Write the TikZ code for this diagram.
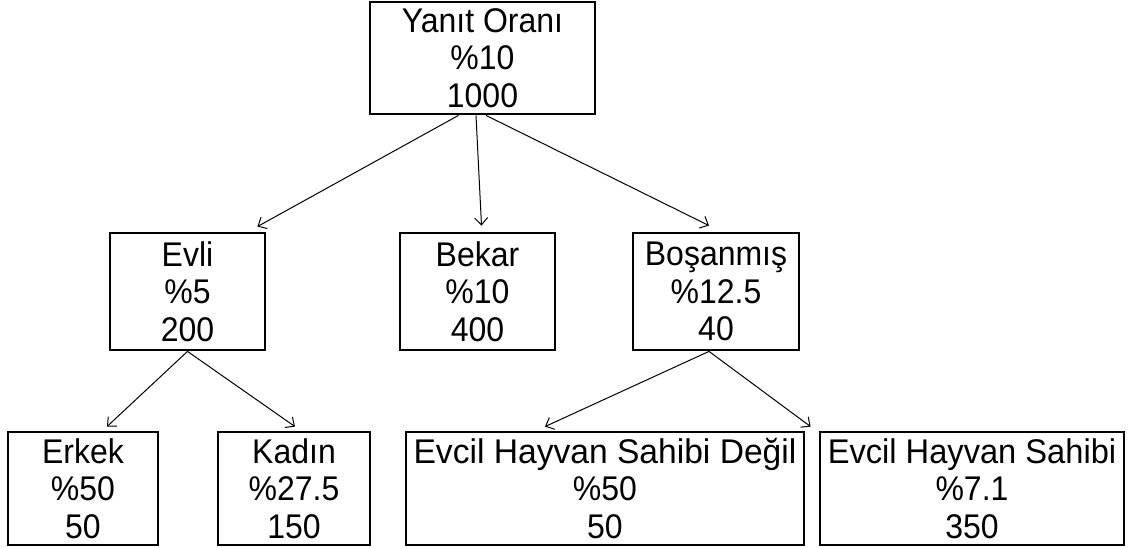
\documentclass[tikz,border=0pt]{standalone}
\usepackage{fontspec}
\usepackage{graphicx}
\setmainfont{Liberation Sans}
\usetikzlibrary{arrows.meta,calc}
\newcommand{\tline}[2][1]{\scalebox{#1}[1.07]{#2}}
\setlength{\lineskiplimit}{-100pt}
\begin{document}
\begin{tikzpicture}[x=1pt,y=1pt,
  box/.style={draw=black,line width=2.8pt,rectangle,align=center,inner sep=0pt,
    font=\fontsize{32}{37.5}\selectfont,anchor=center},
  conn/.style={line width=1pt,-{Straight Barb[length=7pt,width=13pt,line width=1pt]}}]
\useasboundingbox (0,0) rectangle (1130,548);
\node[box,minimum width=225,minimum height=112] (top) at (482.5,490) {\tline{Yanıt Oranı}\\\tline{\%10}\\\tline{1000}};
\node[box,minimum width=155,minimum height=117] (evli) at (187.5,256.5) {\tline{Evli}\\\tline{\%5}\\\tline{200}};
\node[box,minimum width=155,minimum height=117] (bekar) at (477.5,256.5) {\tline{Bekar}\\\tline{\%10}\\\tline{400}};
\node[box,minimum width=166,minimum height=117] (bosan) at (716,256.5) {\tline{Boşanmış}\\\tline{\%12.5}\\\tline{40}};
\node[box,minimum width=150,minimum height=113] (erkek) at (83,59.5) {\tline{Erkek}\\\tline{\%50}\\\tline{50}};
\node[box,minimum width=152,minimum height=113] (kadin) at (294,59.5) {\tline{Kadın}\\\tline{\%27.5}\\\tline{150}};
\node[box,minimum width=398,minimum height=113] (degil) at (605,59.5) {\tline[1.05]{Evcil Hayvan Sahibi Değil}\\\tline{\%50}\\\tline{50}};
\node[box,minimum width=304,minimum height=113] (sahibi) at (972,59.5) {\tline[1.02]{Evcil Hayvan Sahibi}\\\tline{\%7.1}\\\tline{350}};
\coordinate (t1) at ($(top.south)+(-24,0)$);
\coordinate (t2) at ($(top.south)+(-6.5,0)$);
\coordinate (t3) at ($(top.south)+(3.5,0)$);
\draw[conn] (t1) -- ($(evli.north east)+(-9,5)$);
\draw[conn] (t2) -- ($(bekar.north)+(4,6)$);
\draw[conn] (t3) -- ($(bosan.north)+(-7,6)$);
\draw[conn] (evli.south) -- ($(erkek.north)+(24,4)$);
\draw[conn] (evli.south) -- ($(kadin.north)+(1,4)$);
\coordinate (b0) at ($(bosan.south)+(-7,0)$);
\draw[conn] (b0) -- ($(degil.north)+(-60,4)$);
\draw[conn] (b0) -- ($(sahibi.north west)+(-8,4)$);
\end{tikzpicture}
\end{document}
